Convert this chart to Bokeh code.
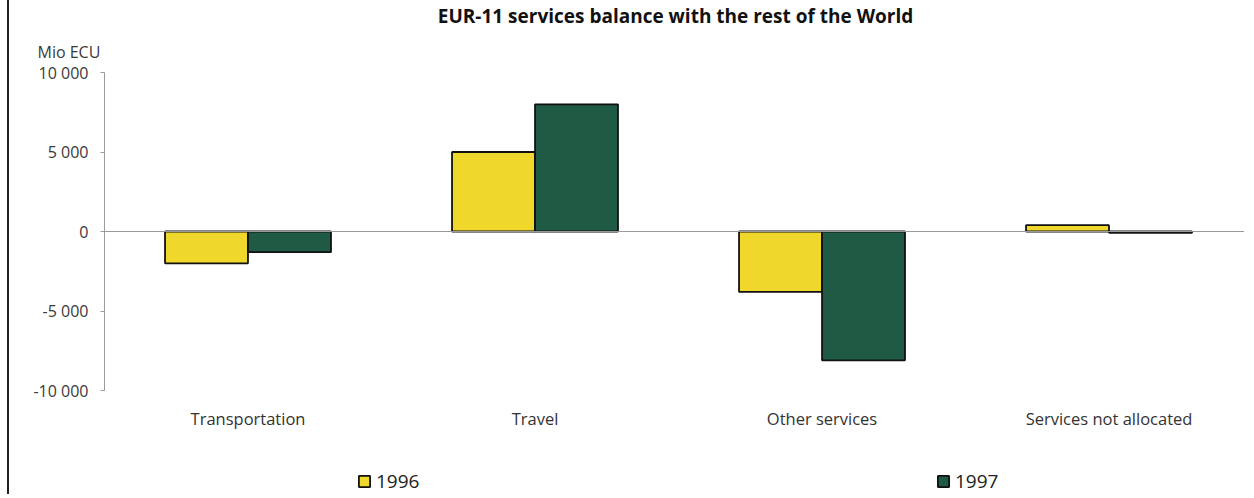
from bokeh.plotting import figure
from bokeh.models import FixedTicker, Range1d, Legend, LegendItem, Span, ColumnDataSource, Title
from bokeh.core.properties import value
from bokeh.embed import file_html
from bokeh.resources import INLINE

categories = ["Transportation", "Travel", "Other services", "Services not allocated"]
values_1996 = [-2000, 5000, -3800, 400]
values_1997 = [-1300, 8000, -8100, -80]
y_ticks = [-10000, -5000, 0, 5000, 10000]
y_tick_labels = ["-10 000", "-5 000", "0", "5 000", "10 000"]
series_names = ["1996", "1997"]
colors = ["#F0D72C", "#1E5A44"]

FONT = "Open Sans"

# frame runs from the top of the value scale down to the bottom of the canvas,
# so the category names and legend sit inside it below -10 000
Y_TOP, Y_BOTTOM = 10000, -16540
LABEL_Y = -11760

p = figure(width=1237, height=494, output_backend="svg", toolbar_location=None,
           x_range=Range1d(0.5, 4.479), y_range=Range1d(Y_BOTTOM, Y_TOP),
           min_border_left=95, min_border_right=0, min_border_top=72, min_border_bottom=0)
p.styles = {"border-left": "2px solid #222", "margin-left": "7px"}
p.outline_line_color = None
p.background_fill_color = "white"
p.border_fill_color = "white"
p.xgrid.visible = False
p.ygrid.visible = False
p.xaxis.visible = False
p.title.visible = False

pos = [i + 1 for i in range(len(categories))]
off = 0.1446
w = 0.289
src = ColumnDataSource(dict(
    x1=[x - off for x in pos], x2=[x + off for x in pos],
    v96=values_1996, v97=values_1997))

p.add_layout(Span(location=0, dimension="width", line_color="#999999", line_width=1))

r1 = p.vbar(x="x1", top="v96", bottom=0, width=w, source=src,
            fill_color=colors[0], line_color="#111111", line_width=1.8)
r2 = p.vbar(x="x2", top="v97", bottom=0, width=w, source=src,
            fill_color=colors[1], line_color="#111111", line_width=1.8)

# category names
lab_src = ColumnDataSource(dict(x=pos, y=[LABEL_Y] * len(pos), t=categories))
p.text(x="x", y="y", text="t", source=lab_src, text_align="center", text_baseline="middle",
       text_font=value(FONT), text_font_size="16.5px", text_color="#333333")

# y axis
ya = p.yaxis[0]
ya.bounds = (-10000, 10000)
ya.ticker = FixedTicker(ticks=y_ticks)
ya.major_label_overrides = {t: l for t, l in zip(y_ticks, y_tick_labels)}
ya.axis_line_color = "#9a9a9a"
ya.axis_line_width = 1
ya.major_tick_line_color = "#9a9a9a"
ya.major_tick_out = 4
ya.major_tick_in = 0
ya.minor_tick_line_color = None
ya.major_label_text_font = FONT
ya.major_label_text_font_size = "16px"
ya.major_label_text_color = "#3a3a3a"
ya.major_label_standoff = 12

# unit label (closest to frame) and main title
p.add_layout(Title(text="Mio ECU", align="left", offset=-67, standoff=20,
                   text_font=FONT, text_font_size="16px", text_font_style="normal",
                   text_color="#3a3a3a"), "above")
p.add_layout(Title(text="EUR-11 services balance with the rest of the World", align="center",
                   offset=-35, standoff=0, text_font=FONT, text_font_size="19px",
                   text_font_style="bold", text_color="#111111"), "above")

legend = Legend(items=[LegendItem(label=series_names[0], renderers=[r1]),
                       LegendItem(label=series_names[1], renderers=[r2])],
                orientation="horizontal", location=(253, 0), spacing=515,
                label_text_font=FONT, label_text_font_size="19px", label_text_color="#222222",
                glyph_width=14, glyph_height=14, label_height=14, label_width=45,
                label_standoff=5, padding=0, margin=0,
                border_line_color=None, background_fill_alpha=0)
p.add_layout(legend, "center")

open("out.html", "w").write(file_html(p, INLINE))
